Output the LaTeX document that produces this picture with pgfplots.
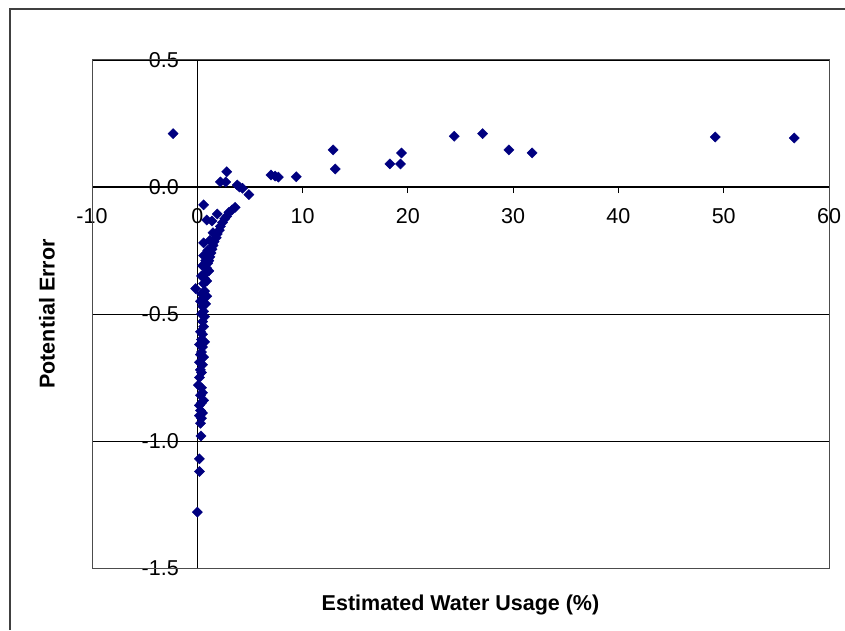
\documentclass[border=0pt]{standalone}
\usepackage{fontspec}
\setmainfont{Liberation Sans}
\usepackage{pgfplots}
\pgfplotsset{compat=1.18}
\definecolor{navy}{RGB}{0,0,128}

\begin{document}
\begin{tikzpicture}
\useasboundingbox (0pt,0pt) rectangle (845pt,630pt);
% outer chart frame (only left and top edges fall inside the picture)
\draw[black!75, line width=1.2pt] (10pt,0pt) -- (10pt,621pt) -- (845pt,621pt);
\begin{axis}[
    at={(92pt,62pt)}, anchor=south west,
    scale only axis,
    width=737pt, height=508pt,
    xmin=-10, xmax=60,
    ymin=-1.5, ymax=0.5,
    axis x line=middle, axis y line=middle,
    axis line style={-, black, line width=1pt},
    hide obscured x ticks=false, hide obscured y ticks=false,
    xtick={-10,0,...,60},
    ytick={-1.5,-1,...,0.5},
    tick align=outside,
    major tick length=6pt,
    tick style={black, line width=1pt},
    ymajorgrids,
    grid style={black, line width=0.9pt},
    /pgf/number format/assume math mode=true,
    ticklabel style={font=\fontsize{21.5}{25}\selectfont},
    xticklabel style={yshift=-12pt},
    yticklabel style={xshift=-9pt,
        /pgf/number format/.cd, fixed, fixed zerofill, precision=1},
    xticklabel={\pgfmathprintnumber[assume math mode=true]{\tick}},
    xlabel={Estimated Water Usage (\%)},
    ylabel={Potential Error},
    xlabel style={at={(axis description cs:0.5,-0.073)}, anchor=center,
        font=\bfseries\fontsize{21.5}{25}\selectfont},
    ylabel style={at={(axis description cs:-0.061,0.5)}, anchor=center,
        rotate=90, font=\bfseries\fontsize{21.5}{25}\selectfont},
    clip=false,
]
\draw[black!70, line width=1pt] (rel axis cs:0,0) rectangle (rel axis cs:1,1);

\addplot[only marks, mark=square*, mark size=3.6pt,
         mark options={rotate=45, fill=navy, draw=navy}] coordinates {
    (-2.3,0.21) (49.2,0.197) (56.7,0.193)
    (24.4,0.20) (27.1,0.21) (29.6,0.146) (31.8,0.134)
    (19.4,0.134) (19.3,0.091) (18.3,0.091)
    (12.9,0.146) (13.1,0.071)
    (9.4,0.04) (7.0,0.047) (7.7,0.039) (7.4,0.043)
    (2.8,0.06) (2.2,0.02) (2.7,0.02)
    (3.8,0.008) (4.3,-0.005) (4.9,-0.03) (4.0,0.0)
    (0.6,-0.07) (1.9,-0.106) (3.6,-0.08) (0.9,-0.13) (1.4,-0.134)
    (3.3,-0.09) (3.0,-0.10) (2.8,-0.115) (2.6,-0.125) (2.4,-0.14)
    (2.2,-0.155) (2.1,-0.17) (1.9,-0.185) (1.8,-0.20) (1.6,-0.215)
    (1.5,-0.23) (1.4,-0.245) (1.3,-0.26) (1.2,-0.275) (1.1,-0.29)
    (1.0,-0.30) (0.9,-0.32) (0.8,-0.34) (0.7,-0.36) (0.6,-0.38)
    (1.5,-0.18) (0.6,-0.22) (0.6,-0.27) (1.0,-0.25) (1.2,-0.21)
    (0.8,-0.29) (0.5,-0.31) (1.1,-0.33) (0.4,-0.35) (0.9,-0.37)
    (-0.15,-0.40) (0.7,-0.41) (0.4,-0.42) (0.9,-0.43) (0.5,-0.44)
    (0.3,-0.45) (0.8,-0.46) (0.5,-0.47) (0.6,-0.49) (0.4,-0.50)
    (0.7,-0.51) (0.5,-0.53) (0.6,-0.55) (0.3,-0.57) (0.5,-0.58)
    (0.4,-0.60) (0.7,-0.61) (0.2,-0.62) (0.5,-0.63) (0.4,-0.65)
    (0.3,-0.66) (0.6,-0.67) (0.2,-0.69) (0.5,-0.70) (0.3,-0.72)
    (0.4,-0.73) (0.2,-0.75) (0.1,-0.78) (0.4,-0.79) (0.5,-0.81)
    (0.3,-0.82) (0.6,-0.84) (0.4,-0.85) (0.2,-0.86) (0.3,-0.88)
    (0.5,-0.89) (0.2,-0.90) (0.4,-0.91) (0.3,-0.93)
    (0.35,-0.98) (0.2,-1.07) (0.2,-1.12) (0.0,-1.28)
};
\end{axis}
\end{tikzpicture}
\end{document}
